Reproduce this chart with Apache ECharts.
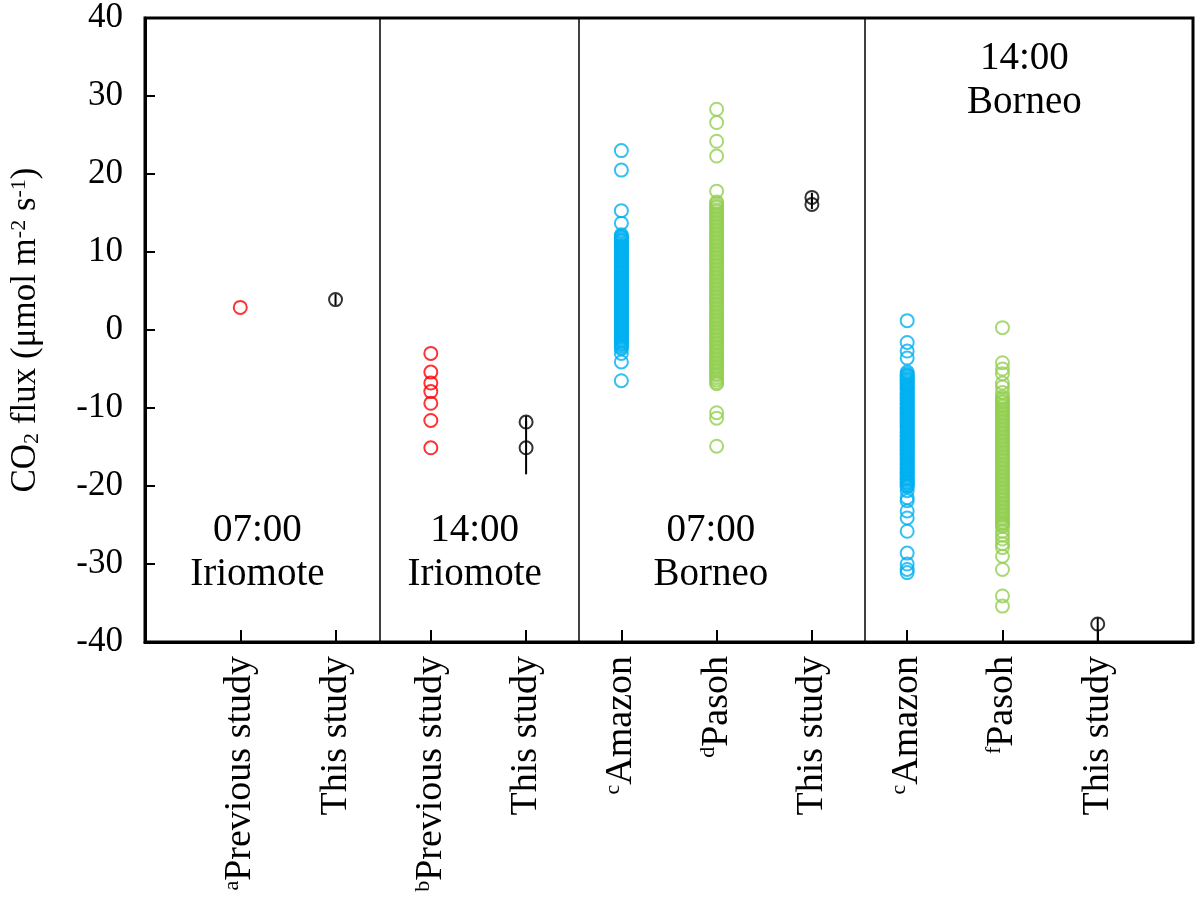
<!DOCTYPE html>
<html>
<head>
<meta charset="utf-8" />
<title>CO2 flux</title>
<style>
  html, body { margin: 0; padding: 0; background: #fff; }
  #fluxChart { width: 1200px; height: 905px; }
</style>
</head>
<body>
<div id="fluxChart"></div>
<script src="https://cdn.jsdelivr.net/npm/echarts@6/dist/echarts.min.js"></script>
<script>
// x positions are index + 1 on a 0..11 value axis
var categories = ['Previous study', 'This study', 'Previous study', 'This study', 'Amazon', 'Pasoh', 'This study', 'Amazon', 'Pasoh', 'This study'];
var catSup = ['a', '', 'b', '', 'c', 'd', '', 'c', 'f', ''];
var panelBreaks = [2.455, 4.554, 7.555];
var panelLabels = ['07:00\nIriomote', '14:00\nIriomote', '07:00\nBorneo', '14:00\nBorneo'];

var yMin = -40, yMax = 40, yStep = 10;

// red: previous studies at Iriomote
var prev07 = [2.9];
var prev14 = [-3.0, -5.4, -6.8, -7.9, -9.4, -11.6, -15.1];

var amazon07 = [23.0, 20.5, 15.3, 13.7,
  12.2, 12.0, 11.9, 11.7, 11.5, 11.4, 11.2, 11.0, 10.8, 10.7, 10.5, 10.3, 10.2, 10.0, 9.8, 9.6, 9.5, 9.3, 9.1, 9.0,
  8.8, 8.6, 8.4, 8.3, 8.1, 7.9, 7.8, 7.6, 7.4, 7.2, 7.1, 6.9, 6.7, 6.6, 6.4, 6.2, 6.0, 5.9, 5.7, 5.5, 5.4, 5.2, 5.0,
  4.8, 4.7, 4.5, 4.3, 4.2, 4.0, 3.8, 3.6, 3.5, 3.3, 3.1, 3.0, 2.8, 2.6, 2.4, 2.3, 2.1, 1.9, 1.8, 1.6, 1.4, 1.2, 1.1,
  0.9, 0.7, 0.6, 0.4, 0.2, 0.0, -0.1, -0.3, -0.5, -0.6, -0.8, -1.0, -1.2, -1.3, -1.5, -1.7, -1.8, -2.0, -2.2, -2.4,
  -3.0, -4.1, -6.5];
var pasoh07 = [28.3, 26.6, 24.2, 22.3, 17.8,
  16.4, 16.2, 15.9, 15.7, 15.4, 15.2, 14.9, 14.7, 14.4, 14.2, 13.9, 13.7, 13.4, 13.2, 12.9, 12.7, 12.4, 12.2, 11.9,
  11.7, 11.4, 11.2, 10.9, 10.7, 10.4, 10.2, 9.9, 9.7, 9.4, 9.2, 8.9, 8.7, 8.4, 8.2, 7.9, 7.7, 7.4, 7.2, 6.9, 6.7, 6.4,
  6.2, 5.9, 5.7, 5.4, 5.2, 4.9, 4.7, 4.4, 4.2, 3.9, 3.7, 3.4, 3.2, 2.9, 2.7, 2.4, 2.2, 1.9, 1.7, 1.4, 1.2, 0.9, 0.7,
  0.4, 0.2, -0.1, -0.3, -0.6, -0.8, -1.1, -1.3, -1.6, -1.8, -2.1, -2.3, -2.6, -2.8, -3.1, -3.3, -3.6, -3.8, -4.1,
  -4.3, -4.6, -4.8, -5.1, -5.3, -5.6, -5.8, -6.1, -6.4, -6.7, -6.9,
  -10.6, -11.3, -14.9];
var amazon14 = [1.2, -1.6, -2.7, -3.6,
  -5.4, -5.6, -5.8, -5.9, -6.1, -6.3, -6.4, -6.6, -6.8, -7.0, -7.1, -7.3, -7.5, -7.6, -7.8, -8.0, -8.2, -8.3, -8.5,
  -8.7, -8.8, -9.0, -9.2, -9.4, -9.5, -9.7, -9.9, -10.0, -10.2, -10.4, -10.6, -10.7, -10.9, -11.1, -11.2, -11.4,
  -11.6, -11.8, -11.9, -12.1, -12.3, -12.4, -12.6, -12.8, -13.0, -13.1, -13.3, -13.5, -13.6, -13.8, -14.0, -14.2,
  -14.3, -14.5, -14.7, -14.8, -15.0, -15.2, -15.4, -15.5, -15.7, -15.9, -16.0, -16.2, -16.4, -16.6, -16.7, -16.9,
  -17.1, -17.2, -17.4, -17.6, -17.8, -17.9, -18.1, -18.3, -18.4, -18.6, -18.8, -19.0, -19.1, -19.3, -19.5, -19.6,
  -19.8, -20.0, -20.1,
  -20.6, -21.5, -21.9, -23.2, -24.1, -25.8, -28.6, -30.0, -30.7, -31.1];
var pasoh14 = [0.3, -4.2, -5.0, -5.6, -6.8, -7.3, -8.0,
  -8.6, -8.8, -9.1, -9.3, -9.6, -9.8, -10.1, -10.3, -10.6, -10.8, -11.1, -11.3, -11.6, -11.8, -12.1, -12.3, -12.6,
  -12.8, -13.1, -13.3, -13.6, -13.8, -14.1, -14.3, -14.6, -14.8, -15.1, -15.3, -15.6, -15.8, -16.1, -16.3, -16.6,
  -16.8, -17.1, -17.3, -17.6, -17.8, -18.1, -18.3, -18.6, -18.8, -19.1, -19.3, -19.6, -19.8, -20.1, -20.3, -20.6,
  -20.8, -21.1, -21.3, -21.6, -21.8, -22.1, -22.3, -22.6, -22.8, -23.1, -23.3, -23.6, -23.8, -24.1, -24.3, -24.6,
  -24.8, -25.0, -25.2,
  -25.8, -26.3, -26.8, -27.4, -27.9, -29.0, -30.7, -34.1, -35.4];

// black: this study, mean with low/high of error bar
var thisX = [2, 4, 4, 7, 7, 10];
var thisMean = [3.9, -11.8, -15.1, 17.0, 16.1, -37.7];
var thisLow = [3.2, -12.6, -18.5, 16.4, 15.5, -40.0];
var thisHigh = [4.6, -11.0, -11.7, 17.6, 16.7, -36.9];

var _font = '"Liberation Serif", "Times New Roman", serif';

function toPoints(x, vals) {
  var out = [];
  for (var i = 0; i < vals.length; i++) out.push([x, vals[i]]);
  return out;
}

function ringSeries(data, color) {
  return {
    type: 'scatter',
    symbol: 'circle',
    symbolSize: 13,
    silent: true,
    itemStyle: { color: 'rgba(255,255,255,0)', borderColor: color, borderWidth: 2 },
    data: data
  };
}

var redData = toPoints(1, prev07).concat(toPoints(3, prev14));
var blueData = toPoints(5, amazon07).concat(toPoints(8, amazon14));
var greenData = toPoints(6, pasoh07).concat(toPoints(9, pasoh14));
var blackData = [], errData = [];
for (var i = 0; i < thisX.length; i++) {
  blackData.push([thisX[i], thisMean[i]]);
  errData.push([thisX[i], thisLow[i], thisHigh[i]]);
}

var labelPos = [[1.18, -28.6], [3.46, -28.6], [5.94, -28.6], [9.23, 31.9]];
var breakLines = [];
for (var k = 0; k < panelBreaks.length; k++) breakLines.push({ xAxis: panelBreaks[k] });

var myChart = echarts.init(document.getElementById('fluxChart'));
var option = {
  animation: false,
  backgroundColor: '#fff',
  grid: {
    left: 145, right: 7, top: 18, bottom: 263,
    show: true, borderColor: '#000', borderWidth: 3
  },
  xAxis: {
    type: 'value',
    min: 0, max: 11, interval: 1,
    axisLine: { show: true, onZero: false, lineStyle: { color: '#000', width: 3 } },
    axisTick: { show: true, inside: true, length: 12, lineStyle: { color: '#000', width: 2 } },
    splitLine: { show: false },
    axisLabel: {
      rotate: 90,
      margin: 14,
      color: '#000',
      fontFamily: _font,
      fontSize: 38,
      formatter: function (v) {
        var i = Math.round(v) - 1;
        if (i < 0 || i >= categories.length) return '';
        return (catSup[i] ? '{s|' + catSup[i] + '}' : '') + '{t|' + categories[i] + '}';
      },
      rich: {
        t: { fontFamily: _font, fontSize: 38, color: '#000' },
        s: { fontFamily: _font, fontSize: 22, color: '#000', verticalAlign: 'top' }
      }
    }
  },
  yAxis: {
    type: 'value',
    min: yMin, max: yMax, interval: yStep,
    name: 'CO{sub|2} flux (μmol m{sup|-2} s{sup|-1})',
    nameLocation: 'middle',
    nameRotate: 90,
    nameGap: 102,
    nameTextStyle: {
      fontFamily: _font, fontSize: 35, color: '#000',
      rich: {
        sub: { fontFamily: _font, fontSize: 22, color: '#000', verticalAlign: 'bottom' },
        sup: { fontFamily: _font, fontSize: 22, color: '#000', verticalAlign: 'top' }
      }
    },
    axisLine: { show: true, lineStyle: { color: '#000', width: 3 } },
    axisTick: { show: true, inside: true, length: 10, lineStyle: { color: '#000', width: 2 } },
    splitLine: { show: false },
    axisLabel: { margin: 22, color: '#000', fontFamily: _font, fontSize: 35 }
  },
  series: [
    ringSeries(redData, '#ff0000'),
    ringSeries(blueData, '#00b0f0'),
    ringSeries(greenData, '#92d050'),
    ringSeries(blackData, '#000000'),
    {
      type: 'custom',
      silent: true,
      renderItem: function (params, api) {
        var x = api.value(0);
        var p1 = api.coord([x, api.value(1)]);
        var p2 = api.coord([x, api.value(2)]);
        return {
          type: 'line',
          shape: { x1: p1[0], y1: p1[1], x2: p2[0], y2: p2[1] },
          style: { stroke: '#000', lineWidth: 2 }
        };
      },
      encode: { x: 0, y: [1, 2] },
      data: errData,
      markLine: {
        silent: true,
        symbol: ['none', 'none'],
        label: { show: false },
        lineStyle: { color: '#000', width: 1.5, type: 'solid' },
        data: breakLines
      }
    }
  ]
};
myChart.setOption(option);

// panel captions, placed through the grid's own coordinate conversion
var captions = [];
for (var j = 0; j < panelLabels.length; j++) {
  var p = myChart.convertToPixel({ gridIndex: 0 }, labelPos[j]);
  captions.push({
    type: 'text',
    x: p[0],
    y: p[1],
    silent: true,
    style: {
      text: panelLabels[j],
      fontFamily: _font,
      fontSize: 39,
      lineHeight: 44,
      fill: '#000',
      align: 'center',
      verticalAlign: 'middle'
    }
  });
}
myChart.setOption({ graphic: captions });
</script>
</body>
</html>
